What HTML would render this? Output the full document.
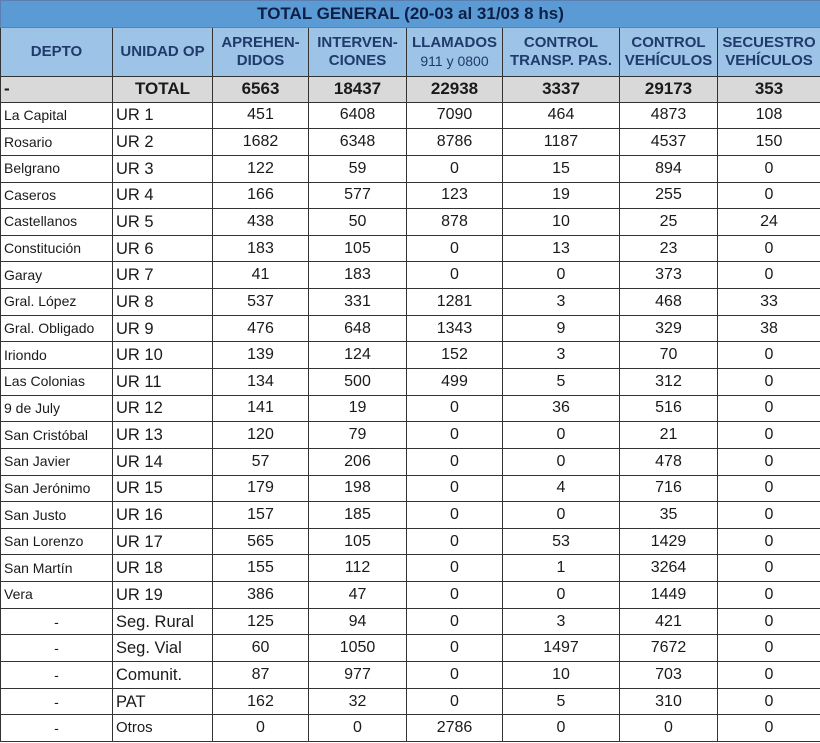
<!DOCTYPE html>
<html><head><meta charset="utf-8"><style>
html,body{margin:0;padding:0;background:#fff;}
table{border-collapse:collapse;table-layout:fixed;width:820px;font-family:"Liberation Sans",Arial,sans-serif;color:#1a1a1a;}
td{border:1px solid #333;padding:0;height:25.65px;text-align:center;font-size:16px;line-height:18px;vertical-align:middle;white-space:nowrap;overflow:hidden;}
td.d{text-align:left;font-size:14px;padding-left:3px;padding-bottom:1px;height:24.65px;}
td.u{text-align:left;padding-left:3px;font-size:16.5px;}
td.dash{text-align:center;font-size:14px;}
tr.title td{background:#5b9bd5;height:26px;font-weight:bold;font-size:17px;color:#0d1f45;border-color:#5b7fb0;}
tr.head td{background:#9dc3e6;height:48px;font-weight:bold;font-size:15px;color:#1f3a6b;line-height:18px;}
tr.tot td{background:#d9d9d9;font-weight:bold;font-size:17px;height:24.6px;}
</style></head><body>
<table>
<colgroup><col style="width:112px"><col style="width:100px"><col style="width:96px"><col style="width:98px"><col style="width:96px"><col style="width:117px"><col style="width:98px"><col style="width:103px"></colgroup>
<tr class="title"><td colspan="8">TOTAL GENERAL (20-03 al 31/03 8 hs)</td></tr>
<tr class="head"><td>DEPTO</td><td>UNIDAD OP</td><td>APREHEN-<br>DIDOS</td><td>INTERVEN-<br>CIONES</td><td>LLAMADOS<br><span style="font-weight:normal;font-size:14px">911 y 0800</span></td><td>CONTROL<br>TRANSP. PAS.</td><td>CONTROL<br>VEHÍCULOS</td><td>SECUESTRO<br>VEHÍCULOS</td></tr>
<tr class="tot"><td style="text-align:left;padding-left:3px">-</td><td>TOTAL</td><td>6563</td><td>18437</td><td>22938</td><td>3337</td><td>29173</td><td>353</td></tr>
<tr><td class="d">La Capital</td><td class="u">UR 1</td><td>451</td><td>6408</td><td>7090</td><td>464</td><td>4873</td><td>108</td></tr>
<tr><td class="d">Rosario</td><td class="u">UR 2</td><td>1682</td><td>6348</td><td>8786</td><td>1187</td><td>4537</td><td>150</td></tr>
<tr><td class="d">Belgrano</td><td class="u">UR 3</td><td>122</td><td>59</td><td>0</td><td>15</td><td>894</td><td>0</td></tr>
<tr><td class="d">Caseros</td><td class="u">UR 4</td><td>166</td><td>577</td><td>123</td><td>19</td><td>255</td><td>0</td></tr>
<tr><td class="d">Castellanos</td><td class="u">UR 5</td><td>438</td><td>50</td><td>878</td><td>10</td><td>25</td><td>24</td></tr>
<tr><td class="d">Constitución</td><td class="u">UR 6</td><td>183</td><td>105</td><td>0</td><td>13</td><td>23</td><td>0</td></tr>
<tr><td class="d">Garay</td><td class="u">UR 7</td><td>41</td><td>183</td><td>0</td><td>0</td><td>373</td><td>0</td></tr>
<tr><td class="d">Gral. López</td><td class="u">UR 8</td><td>537</td><td>331</td><td>1281</td><td>3</td><td>468</td><td>33</td></tr>
<tr><td class="d">Gral. Obligado</td><td class="u">UR 9</td><td>476</td><td>648</td><td>1343</td><td>9</td><td>329</td><td>38</td></tr>
<tr><td class="d">Iriondo</td><td class="u">UR 10</td><td>139</td><td>124</td><td>152</td><td>3</td><td>70</td><td>0</td></tr>
<tr><td class="d">Las Colonias</td><td class="u">UR 11</td><td>134</td><td>500</td><td>499</td><td>5</td><td>312</td><td>0</td></tr>
<tr><td class="d">9 de July</td><td class="u">UR 12</td><td>141</td><td>19</td><td>0</td><td>36</td><td>516</td><td>0</td></tr>
<tr><td class="d">San Cristóbal</td><td class="u">UR 13</td><td>120</td><td>79</td><td>0</td><td>0</td><td>21</td><td>0</td></tr>
<tr><td class="d">San Javier</td><td class="u">UR 14</td><td>57</td><td>206</td><td>0</td><td>0</td><td>478</td><td>0</td></tr>
<tr><td class="d">San Jerónimo</td><td class="u">UR 15</td><td>179</td><td>198</td><td>0</td><td>4</td><td>716</td><td>0</td></tr>
<tr><td class="d">San Justo</td><td class="u">UR 16</td><td>157</td><td>185</td><td>0</td><td>0</td><td>35</td><td>0</td></tr>
<tr><td class="d">San Lorenzo</td><td class="u">UR 17</td><td>565</td><td>105</td><td>0</td><td>53</td><td>1429</td><td>0</td></tr>
<tr><td class="d">San Martín</td><td class="u">UR 18</td><td>155</td><td>112</td><td>0</td><td>1</td><td>3264</td><td>0</td></tr>
<tr><td class="d">Vera</td><td class="u">UR 19</td><td>386</td><td>47</td><td>0</td><td>0</td><td>1449</td><td>0</td></tr>
<tr><td class="dash">-</td><td class="u">Seg. Rural</td><td>125</td><td>94</td><td>0</td><td>3</td><td>421</td><td>0</td></tr>
<tr><td class="dash">-</td><td class="u">Seg. Vial</td><td>60</td><td>1050</td><td>0</td><td>1497</td><td>7672</td><td>0</td></tr>
<tr><td class="dash">-</td><td class="u">Comunit.</td><td>87</td><td>977</td><td>0</td><td>10</td><td>703</td><td>0</td></tr>
<tr><td class="dash">-</td><td class="u">PAT</td><td>162</td><td>32</td><td>0</td><td>5</td><td>310</td><td>0</td></tr>
<tr><td class="dash">-</td><td class="u" style="font-size:15px">Otros</td><td>0</td><td>0</td><td>2786</td><td>0</td><td>0</td><td>0</td></tr>
</table>
</body></html>
